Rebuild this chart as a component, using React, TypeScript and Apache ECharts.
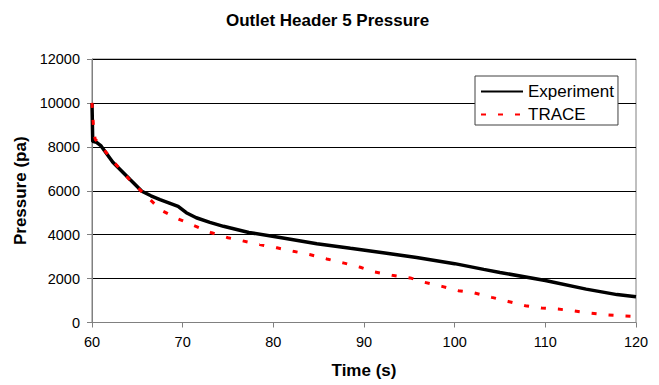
import React, { useEffect, useRef } from "react";
import * as echarts from "echarts";

const titleText = "Outlet Header 5 Pressure";
const xAxisName = "Time (s)";
const yAxisName = "Pressure (pa)";
const seriesNames = ["Experiment", "TRACE"];

const experimentTime = [60, 60.08, 60.5, 61.0, 62.3, 64.2, 65.5, 66.5, 67.5, 69.5, 70.4, 71.5, 73.0, 74.5, 77.3, 80.9, 84.8, 88.5, 92.1, 95.8, 100, 103.2, 105, 110, 114.5, 117.9, 120];
const experimentPressure = [10000, 8250, 8200, 8040, 7300, 6510, 5980, 5770, 5600, 5290, 5000, 4770, 4560, 4380, 4100, 3860, 3590, 3380, 3180, 2960, 2680, 2420, 2280, 1910, 1520, 1270, 1170];

const traceTime = [60, 60.1, 60.2, 60.35, 61, 62.3, 64.2, 66, 67.6, 69.5, 71.4, 73.2, 75, 78.5, 80.4, 82.2, 84.0, 85.9, 87.7, 89.6, 91.2, 93.1, 95.1, 96.7, 98.6, 100.4, 102.2, 104.1, 105.9, 107.8, 109.6, 111.4, 113.1, 114.9, 116.8, 118.6, 120];
const tracePressure = [10000, 9300, 8700, 8350, 8050, 7350, 6480, 5760, 5120, 4720, 4390, 4085, 3860, 3550, 3400, 3245, 3095, 2895, 2715, 2515, 2300, 2150, 2030, 1830, 1645, 1450, 1345, 1145, 960, 765, 660, 610, 535, 430, 350, 305, 275];

const FONT = "'Liberation Sans', Arial, sans-serif";

export default function App() {
  const ref = useRef<HTMLDivElement>(null);
  useEffect(() => {
    if (!ref.current) return;
    const chart = echarts.init(ref.current, null, { renderer: "svg" });
    const expData = experimentTime.map((t, i) => [t, experimentPressure[i]]);
    const trData = traceTime.map((t, i) => [t, tracePressure[i]]);
    chart.setOption({
      animation: false,
      backgroundColor: "#fff",
      textStyle: { fontFamily: FONT },
      title: {
        text: titleText,
        left: 221,
        top: 7,
        textStyle: { fontSize: 17, fontWeight: "bold", color: "#000", fontFamily: FONT },
      },
      grid: {
        left: 92,
        right: 23,
        top: 59,
        bottom: 62.5,
        show: true,
        borderColor: "#808080",
        borderWidth: 1,
        backgroundColor: "transparent",
      },
      legend: {
        orient: "vertical",
        left: 475,
        top: 76,
        padding: [7, 4, 2, 5],
        itemWidth: 42,
        itemHeight: 17,
        itemGap: 6,
        backgroundColor: "#fff",
        borderColor: "#404040",
        borderWidth: 1,
        itemStyle: { color: "transparent", borderWidth: 0, opacity: 0 },
        textStyle: { fontSize: 17, color: "#000", fontFamily: FONT },
        data: seriesNames,
      },
      xAxis: {
        type: "value",
        min: 60,
        max: 120,
        interval: 10,
        name: xAxisName,
        nameLocation: "middle",
        nameGap: 39,
        nameTextStyle: { fontSize: 17, fontWeight: "bold", color: "#000", fontFamily: FONT },
        axisLine: { show: true, lineStyle: { color: "#808080", width: 1 } },
        axisTick: { show: true, length: 5, lineStyle: { color: "#808080" } },
        axisLabel: { fontSize: 14.5, color: "#000", margin: 12, fontFamily: FONT },
        splitLine: { show: false },
      },
      yAxis: {
        type: "value",
        min: 0,
        max: 12000,
        interval: 2000,
        name: yAxisName,
        nameLocation: "middle",
        nameGap: 62,
        nameTextStyle: { fontSize: 17, fontWeight: "bold", color: "#000", fontFamily: FONT },
        axisLine: { show: true, lineStyle: { color: "#808080", width: 1 } },
        axisTick: { show: true, length: 5, lineStyle: { color: "#808080" } },
        axisLabel: {
          fontSize: 14.5,
          color: "#000",
          margin: 12,
          fontFamily: FONT,
          formatter: (v: number) => String(v),
        },
        splitLine: { show: true, lineStyle: { color: "#000", width: 1 } },
      },
      series: [
        {
          name: seriesNames[0],
          type: "line",
          data: expData,
          symbol: "none",
          lineStyle: { color: "#000", width: 3.5 },
          itemStyle: { color: "#000" },
          z: 2,
        },
        {
          name: seriesNames[1],
          type: "line",
          data: trData,
          symbol: "none",
          lineStyle: { color: "#ff0000", width: 3, type: [5, 12] },
          itemStyle: { color: "#ff0000" },
          z: 3,
        },
      ],
    });
    return () => chart.dispose();
  }, []);
  return <div ref={ref} style={{ width: 659, height: 385, position: "absolute", left: 0, top: 0 }} />;
}
